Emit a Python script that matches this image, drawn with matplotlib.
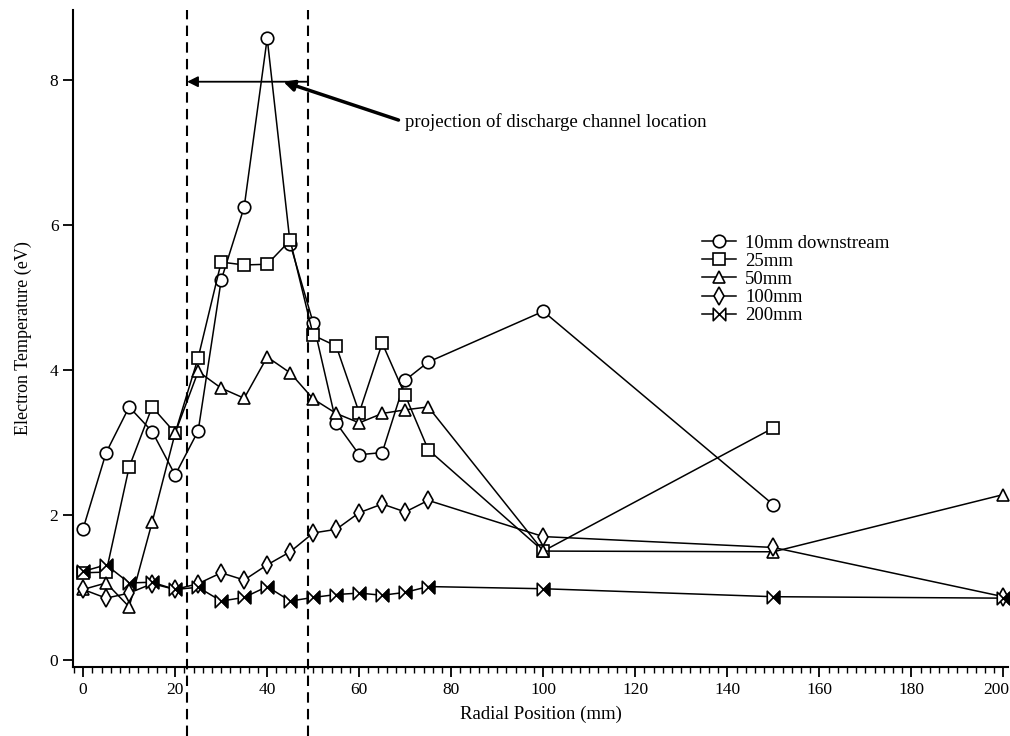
import matplotlib
matplotlib.use("Agg")
import matplotlib.pyplot as plt
import matplotlib.transforms as mtransforms
from matplotlib.path import Path
from matplotlib.ticker import MultipleLocator

# radial positions (mm)
radius_short = [0, 5, 10, 15, 20, 25, 30, 35, 40, 45, 50, 55, 60, 65, 70, 75, 100, 150]
radius_long = radius_short + [200]

# electron temperature (eV) per downstream distance
te_10mm = [1.81, 2.86, 3.49, 3.15, 2.55, 3.16, 5.24, 6.25, 8.58, 5.74, 4.65, 3.27,
           2.83, 2.86, 3.86, 4.11, 4.81, 2.14]
te_25mm = [1.20, 1.21, 2.66, 3.49, 3.13, 4.17, 5.49, 5.45, 5.46, 5.79, 4.48, 4.33,
           3.41, 4.37, 3.65, 2.90, 1.50, 3.20]
te_50mm = [0.97, 1.06, 0.73, 1.90, 3.13, 3.98, 3.75, 3.61, 4.18, 3.96, 3.60, 3.40,
           3.27, 3.40, 3.45, 3.49, 1.50, 1.49, 2.28]
te_100mm = [0.97, 0.85, 0.92, 1.05, 0.97, 1.05, 1.20, 1.10, 1.31, 1.49, 1.75, 1.80,
            2.03, 2.15, 2.04, 2.20, 1.70, 1.55, 0.87]
te_200mm = [1.22, 1.31, 1.06, 1.07, 0.97, 1.00, 0.81, 0.86, 1.01, 0.81, 0.86, 0.90,
            0.92, 0.89, 0.93, 1.01, 0.98, 0.87, 0.85]

labels = ["10mm downstream", "25mm", "50mm", "100mm", "200mm"]
x_ticks = [0, 20, 40, 60, 80, 100, 120, 140, 160, 180, 200]
y_ticks = [0, 2, 4, 6, 8]
channel_edges = [22.6, 48.9]

plt.rcParams["font.family"] = ["Liberation Serif", "DejaVu Serif"]

# bowtie marker: two triangles meeting at the centre, right half filled
bowtie = Path(
    [(-1, 1), (0, 0), (-1, -1), (-1, 1), (1, 1), (0, 0), (1, -1), (1, 1)],
    [Path.MOVETO, Path.LINETO, Path.LINETO, Path.CLOSEPOLY,
     Path.MOVETO, Path.LINETO, Path.LINETO, Path.CLOSEPOLY],
)
bowtie_right = Path(
    [(1, 1), (0, 0), (1, -1), (1, 1)],
    [Path.MOVETO, Path.LINETO, Path.LINETO, Path.CLOSEPOLY],
)

fig = plt.figure(figsize=(10.1, 7.36), dpi=100)
ax = fig.add_axes([0.0723, 0.0938, 0.9257, 0.8926])

series = [
    (radius_short, te_10mm, "o", 9),
    (radius_short, te_25mm, "s", 9),
    (radius_long, te_50mm, "^", 9),
    (radius_long, te_100mm, "d", 9),
    (radius_long, te_200mm, bowtie, 9),
]
for (xs, ys, marker, ms), label in zip(series, labels):
    ax.plot(xs, ys, color="black", lw=1.1, marker=marker, ms=ms,
            mfc="white", mec="black", mew=1.2, label=label, clip_on=False)

# solid right half of the 200mm markers
ax.plot(radius_long, te_200mm, ls="none", marker=bowtie_right, ms=9,
        mfc="black", mec="black", mew=1.0, clip_on=False)

for edge in channel_edges:
    ax.axvline(edge, ymin=-0.105, ymax=1.0, color="black", lw=1.5,
               dashes=(5, 3), clip_on=False)

ax.annotate("", xy=(channel_edges[0], 7.98), xytext=(channel_edges[1], 7.98),
            arrowprops=dict(arrowstyle="-|>", color="black", lw=1.3,
                            shrinkA=0, shrinkB=0, mutation_scale=16))
ax.annotate("projection of discharge channel location", xy=(43.5, 7.98),
            xytext=(70, 7.42), ha="left", va="center", fontsize=13.5,
            arrowprops=dict(arrowstyle="-|>", color="black", lw=2.5,
                            shrinkA=3, shrinkB=0, mutation_scale=16,
                            relpos=(0, 0.5)))

ax.set_xlim(-2.2, 201)
ax.set_ylim(-0.1, 8.97)
ax.spines["top"].set_visible(False)
ax.spines["right"].set_visible(False)
ax.spines["left"].set_linewidth(1.5)
ax.spines["bottom"].set_linewidth(1.5)

ax.set_xticks(x_ticks)
ax.set_yticks(y_ticks)
ax.xaxis.set_minor_locator(MultipleLocator(2))
ax.tick_params(axis="both", which="major", direction="out", length=7, width=1.3,
               labelsize=12.5)
ax.tick_params(axis="x", which="minor", direction="out", length=4, width=1.0)

ax.set_xlabel("Radial Position (mm)", fontsize=13.5, labelpad=6)
ax.set_ylabel("Electron Temperature (eV)", fontsize=13, labelpad=13)

ax.legend(loc="upper left", bbox_to_anchor=(0.695, 0.681),
          bbox_transform=fig.transFigure, frameon=False, fontsize=13.5,
          handlelength=1.8, handletextpad=0.5, labelspacing=0.05,
          borderaxespad=0, borderpad=0)

# nudge the last x tick label so it stays inside the figure
fig.canvas.draw()
last = ax.get_xticklabels()[-1]
last.set_horizontalalignment("right")
last.set_transform(last.get_transform()
                   + mtransforms.ScaledTranslation(6 / 100, 0, fig.dpi_scale_trans))

fig.savefig("out.png", dpi=100)
